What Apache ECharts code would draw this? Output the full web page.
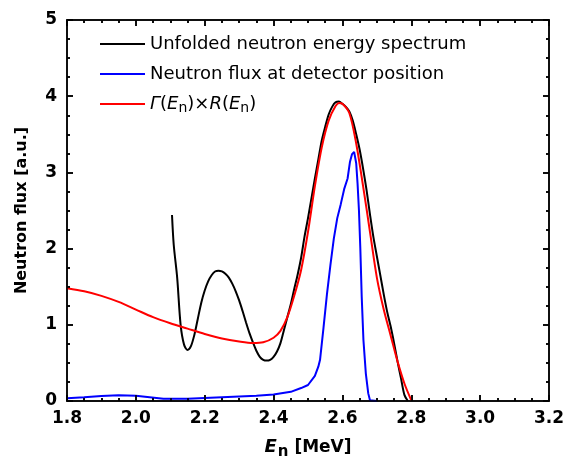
<!DOCTYPE html>
<html>
<head>
<meta charset="utf-8">
<script src="https://cdn.jsdelivr.net/npm/echarts@6/dist/echarts.min.js"></script>
<style>
html,body{margin:0;padding:0;background:#fff;}
#wrap{position:relative;width:566px;height:460px;}
#c,#t{position:absolute;left:0;top:0;width:566px;height:460px;}
#t{pointer-events:none;}
</style>
</head>
<body>
<div id="wrap"><div id="c"></div><div id="t"></div></div>
<script>
const seriesNames = ['Unfolded neutron energy spectrum', 'Neutron flux at detector position', 'Γ(En)×R(En)'];

const energyBlack = [2.105, 2.11, 2.12, 2.13, 2.14, 2.15, 2.16, 2.17, 2.18, 2.19, 2.20, 2.21, 2.22, 2.23, 2.24, 2.25, 2.26, 2.27, 2.28, 2.29, 2.30, 2.31, 2.32, 2.33, 2.34, 2.35, 2.36, 2.37, 2.38, 2.39, 2.40, 2.41, 2.42, 2.43, 2.44, 2.45, 2.46, 2.47, 2.48, 2.49, 2.50, 2.51, 2.52, 2.53, 2.54, 2.55, 2.56, 2.57, 2.58, 2.59, 2.60, 2.61, 2.62, 2.63, 2.64, 2.65, 2.66, 2.67, 2.68, 2.69, 2.70, 2.71, 2.72, 2.73, 2.74, 2.75, 2.76, 2.77, 2.78, 2.79];
const fluxBlack = [2.44, 2.05, 1.62, 1.00, 0.74, 0.67, 0.72, 0.87, 1.08, 1.29, 1.45, 1.57, 1.65, 1.70, 1.71, 1.70, 1.67, 1.62, 1.54, 1.44, 1.32, 1.18, 1.03, 0.89, 0.77, 0.66, 0.58, 0.54, 0.53, 0.54, 0.58, 0.65, 0.76, 0.93, 1.10, 1.27, 1.47, 1.66, 1.88, 2.16, 2.40, 2.66, 2.92, 3.17, 3.42, 3.60, 3.76, 3.86, 3.92, 3.93, 3.90, 3.86, 3.80, 3.68, 3.50, 3.30, 3.05, 2.77, 2.45, 2.15, 1.90, 1.65, 1.40, 1.17, 0.98, 0.76, 0.52, 0.30, 0.08, 0.00];

const energyBlue = [1.80, 1.85, 1.90, 1.95, 2.00, 2.04, 2.08, 2.15, 2.25, 2.35, 2.40, 2.45, 2.48, 2.50, 2.52, 2.53, 2.535, 2.545, 2.555, 2.565, 2.575, 2.585, 2.595, 2.605, 2.615, 2.622, 2.628, 2.634, 2.640, 2.644, 2.648, 2.652, 2.656, 2.661, 2.668, 2.675, 2.680, 2.70];
const fluxBlue = [0.035, 0.05, 0.066, 0.074, 0.07, 0.05, 0.03, 0.03, 0.05, 0.07, 0.085, 0.12, 0.17, 0.21, 0.33, 0.45, 0.54, 0.96, 1.40, 1.78, 2.13, 2.40, 2.58, 2.78, 2.92, 3.14, 3.24, 3.27, 3.12, 2.85, 2.50, 2.00, 1.37, 0.80, 0.36, 0.10, 0.01, 0.00];

const energyRed = [1.80, 1.85, 1.90, 1.95, 2.00, 2.05, 2.10, 2.15, 2.20, 2.25, 2.30, 2.34, 2.37, 2.40, 2.42, 2.44, 2.46, 2.48, 2.50, 2.52, 2.54, 2.56, 2.58, 2.59, 2.60, 2.62, 2.64, 2.66, 2.68, 2.70, 2.72, 2.74, 2.76, 2.78, 2.80];
const fluxRed = [1.48, 1.44, 1.38, 1.30, 1.20, 1.10, 1.02, 0.95, 0.88, 0.82, 0.78, 0.76, 0.77, 0.83, 0.92, 1.10, 1.38, 1.72, 2.22, 2.82, 3.33, 3.68, 3.87, 3.91, 3.90, 3.78, 3.38, 2.82, 2.22, 1.62, 1.20, 0.86, 0.52, 0.23, 0.01];

const xMin = 1.8, xMax = 3.2, xStep = 0.2;
const yMin = 0, yMax = 5, yStep = 1;

function pairs(xs, ys) { return xs.map((x, i) => [x, ys[i]]); }
function axisCommon() {
  return {
    axisLine: { show: true, onZero: false, lineStyle: { color: '#000', width: 1.5 } },
    axisTick: { show: true, inside: true, length: 6, lineStyle: { color: '#000', width: 1.5 } },
    minorTick: { show: true, splitNumber: 4, length: 3, lineStyle: { color: '#000', width: 1.5 } },
    splitLine: { show: false },
    minorSplitLine: { show: false }
  };
}
function gridBox() {
  return { left: 67, right: 17, top: 20, bottom: 59, containLabel: false, outerBoundsMode: 'none' };
}
const labelStyle = { color: '#000', fontFamily: 'DejaVu Sans', fontWeight: 'bold', fontSize: 17 };

const option = {
  animation: false,
  backgroundColor: '#fff',
  grid: gridBox(),
  xAxis: [
    Object.assign(axisCommon(), {
      type: 'value', min: xMin, max: xMax, interval: xStep, position: 'bottom',
      axisLabel: Object.assign({}, labelStyle, { margin: 9, formatter: v => v.toFixed(1) }),
      name: '{e|E}{n|n} [MeV]', nameLocation: 'middle', nameGap: 34, nameMoveOverlap: false,
      nameTextStyle: {
        color: '#000', fontFamily: 'DejaVu Sans', fontWeight: 'bold', fontSize: 17,
        rich: {
          e: { fontFamily: 'DejaVu Sans', fontWeight: 'bold', fontStyle: 'italic', fontSize: 18, color: '#000' },
          n: { fontFamily: 'DejaVu Sans', fontWeight: 'bold', fontSize: 15, color: '#000', padding: [10, 0, 0, 1] }
        }
      }
    }),
    Object.assign(axisCommon(), {
      type: 'value', min: xMin, max: xMax, interval: xStep, position: 'top',
      axisLabel: { show: false }
    })
  ],
  yAxis: [
    Object.assign(axisCommon(), {
      type: 'value', min: yMin, max: yMax, interval: yStep, position: 'left',
      axisLabel: Object.assign({}, labelStyle, { margin: 10 }),
      name: 'Neutron flux [a.u.]', nameLocation: 'middle', nameGap: 37, nameMoveOverlap: false,
      nameTextStyle: { color: '#000', fontFamily: 'DejaVu Sans', fontWeight: 'bold', fontSize: 16 }
    }),
    Object.assign(axisCommon(), {
      type: 'value', min: yMin, max: yMax, interval: yStep, position: 'right',
      axisLabel: { show: false }
    })
  ],
  series: [
    { name: seriesNames[0], type: 'line', smooth: 0.3, symbol: 'none', data: pairs(energyBlack, fluxBlack),
      lineStyle: { color: '#000', width: 2 }, itemStyle: { color: '#000' }, z: 3 },
    { name: seriesNames[1], type: 'line', symbol: 'none', data: pairs(energyBlue, fluxBlue),
      lineStyle: { color: '#0000ff', width: 2 }, itemStyle: { color: '#0000ff' }, z: 4 },
    { name: seriesNames[2], type: 'line', symbol: 'none', smooth: 0.3, data: pairs(energyRed, fluxRed),
      lineStyle: { color: '#ff0000', width: 2 }, itemStyle: { color: '#ff0000' }, z: 5 }
  ],
  legend: {
    orient: 'vertical', left: 95, top: 30, itemWidth: 45, itemHeight: 2, itemGap: 12,
    icon: 'rect',
    data: seriesNames,
    textStyle: {
      fontFamily: 'DejaVu Sans', fontSize: 18, color: '#000',
      rich: {
        it: { fontFamily: 'DejaVu Sans', fontSize: 18, fontStyle: 'italic', color: '#000' },
        nm: { fontFamily: 'DejaVu Sans', fontSize: 18, color: '#000' },
        sub: { fontFamily: 'DejaVu Sans', fontSize: 14, color: '#000', padding: [8, 0, 0, 0] }
      }
    },
    formatter: function (name) {
      if (name === seriesNames[2]) {
        return '{it|Γ}{nm|(}{it|E}{sub|n}{nm|)×}{it|R}{nm|(}{it|E}{sub|n}{nm|)}';
      }
      return name;
    }
  }
};
echarts.init(document.getElementById('c')).setOption(option);

// Transparent overlay chart carrying the frame axes with their tick marks
const tickOption = {
  animation: false,
  grid: gridBox(),
  xAxis: [
    Object.assign(axisCommon(), { type: 'value', min: xMin, max: xMax, interval: xStep, position: 'bottom', axisLabel: { show: false } }),
    Object.assign(axisCommon(), { type: 'value', min: xMin, max: xMax, interval: xStep, position: 'top', axisLabel: { show: false } })
  ],
  yAxis: [
    Object.assign(axisCommon(), { type: 'value', min: yMin, max: yMax, interval: yStep, position: 'left', axisLabel: { show: false } }),
    Object.assign(axisCommon(), { type: 'value', min: yMin, max: yMax, interval: yStep, position: 'right', axisLabel: { show: false } })
  ],
  series: []
};
echarts.init(document.getElementById('t')).setOption(tickOption);
</script>
</body>
</html>
